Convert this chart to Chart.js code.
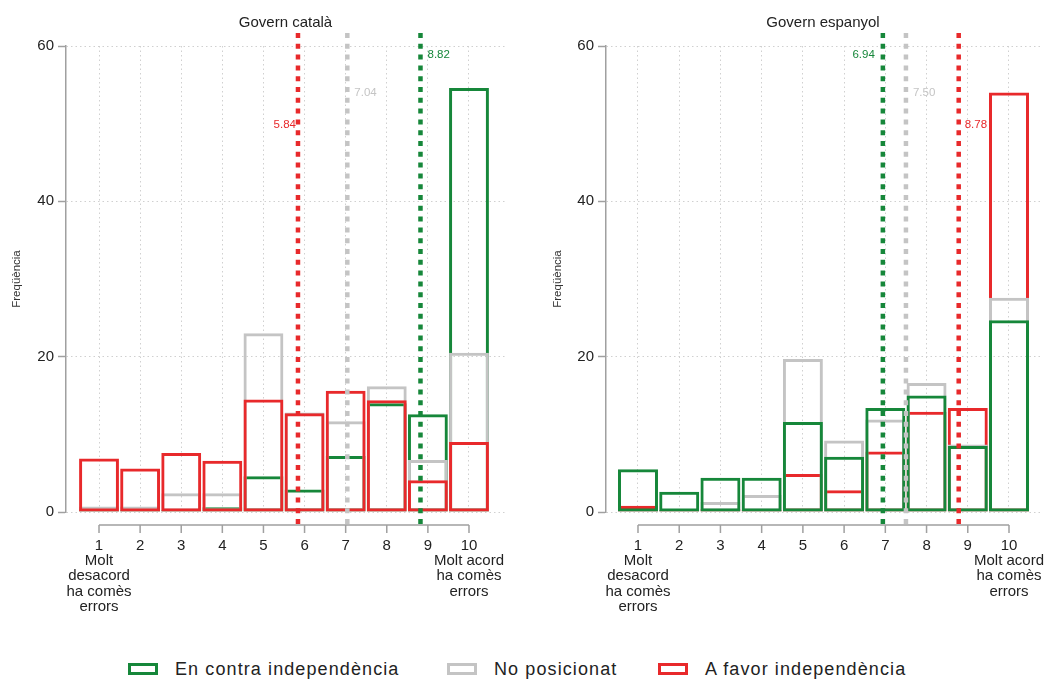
<!DOCTYPE html>
<html>
<head>
<meta charset="utf-8">
<script src="https://cdn.jsdelivr.net/npm/chart.js@4.4.1/dist/chart.umd.min.js"></script>
<style>
    body { margin: 0; background: #fff; font-family: 'Liberation Sans', Arial, sans-serif; }
    #wrap { position: relative; width: 1045px; height: 680px; overflow: hidden; }
    #wrap canvas { position: absolute; top: 0; }
    .legend-item { position: absolute; top: 659px; height: 20px; display: flex; align-items: center;
                   font-size: 18px; letter-spacing: 1.1px; color: #222; white-space: nowrap; }
    .legend-item .box { width: 24px; height: 6px; border: 3px solid; margin-right: 17px; }
</style>
</head>
<body>
<div id="wrap">
    <canvas id="catalaChart" width="530" height="640" style="left:0px"></canvas>
    <canvas id="espanyolChart" width="515" height="640" style="left:530px"></canvas>
    <div class="legend-item" style="left:128px"><span class="box" style="border-color:#16873a"></span><span id="lg0"></span></div>
    <div class="legend-item" style="left:447px"><span class="box" style="border-color:#c4c4c4"></span><span id="lg1"></span></div>
    <div class="legend-item" style="left:658px"><span class="box" style="border-color:#e8292b"></span><span id="lg2"></span></div>
</div>
<script>
// categories on the x axis (scale 1-10)
const categories = [1, 2, 3, 4, 5, 6, 7, 8, 9, 10];
const lowEndLabel = ['Molt', 'desacord', 'ha comès', 'errors'];
const highEndLabel = ['Molt acord', 'ha comès', 'errors'];
const yTicks = [0, 20, 40, 60];

const groupNames = ['En contra independència', 'No posicionat', 'A favor independència'];
const colors = ['#16873a', '#c4c4c4', '#e8292b'];

// Govern català
const catalaContra = [0.4, 0, 0.2, 0.6, 4.6, 2.9, 7.2, 14.0, 12.6, 54.6];
const catalaNoPos = [0.7, 0.7, 2.4, 2.4, 23.0, 12.8, 11.7, 16.2, 6.7, 20.5];
const catalaFavor = [6.9, 5.6, 7.6, 6.6, 14.5, 12.7, 15.6, 14.4, 4.1, 9.0];
const catalaMeans = [8.82, 7.04, 5.84];

// Govern espanyol
const espanyolContra = [5.5, 2.6, 4.4, 4.4, 11.6, 7.1, 13.4, 15.0, 8.5, 24.7];
const espanyolNoPos = [0.4, 0, 1.3, 2.2, 19.7, 9.2, 11.9, 16.6, 8.7, 27.6];
const espanyolFavor = [0.8, 0, 0.4, 0.3, 4.9, 2.8, 7.8, 12.9, 13.4, 54.0];
const espanyolMeans = [6.94, 7.50, 8.78];

// height (in y units) where each mean label sits
const meanLabelY = [58.8, 54.0, 49.9];

const FONT = "'Liberation Sans', Arial, sans-serif";

groupNames.forEach((name, i) => {
    document.getElementById('lg' + i).textContent = name;
});

const panelPlugin = {
    id: 'panel',
    afterDatasetsDraw(chart, args, opts) {
        const {ctx, chartArea} = chart;
        const x = chart.scales.x, y = chart.scales.y;
        opts.means.forEach((m, i) => {
            const px = x.getPixelForValue(m);
            ctx.save();
            ctx.strokeStyle = colors[i];
            ctx.lineWidth = 4.5;
            ctx.setLineDash([5, 5.8]);
            ctx.beginPath();
            ctx.moveTo(px, chartArea.top - 13);
            ctx.lineTo(px, chartArea.bottom + 15);
            ctx.stroke();
            ctx.setLineDash([]);
            ctx.fillStyle = colors[i];
            ctx.font = '11.5px ' + FONT;
            ctx.textBaseline = 'middle';
            const off = opts.labelOffset[i];
            ctx.textAlign = off < 0 ? 'right' : 'left';
            ctx.fillText(m.toFixed(2), px + off, y.getPixelForValue(meanLabelY[i]));
            ctx.restore();
        });
    },
    afterDraw(chart, args, opts) {
        const {ctx, chartArea} = chart;
        const x = chart.scales.x;
        ctx.save();
        // offset x axis line with tick marks
        const axisY = chartArea.bottom + 13;
        ctx.strokeStyle = '#a0a0a0';
        ctx.lineWidth = 1.5;
        ctx.beginPath();
        ctx.moveTo(x.getPixelForValue(categories[0]), axisY);
        ctx.lineTo(x.getPixelForValue(categories[categories.length - 1]), axisY);
        categories.forEach(c => {
            const px = x.getPixelForValue(c);
            ctx.moveTo(px, axisY);
            ctx.lineTo(px, axisY + 8);
        });
        ctx.stroke();

        // panel title
        ctx.fillStyle = '#222';
        ctx.font = '15px ' + FONT;
        ctx.textAlign = 'center';
        ctx.textBaseline = 'alphabetic';
        ctx.fillText(opts.title, (chartArea.left + chartArea.right) / 2, 27);

        // y axis title
        ctx.translate(opts.yTitleX, (chartArea.top + chartArea.bottom) / 2);
        ctx.rotate(-Math.PI / 2);
        ctx.fillStyle = '#333';
        ctx.font = '11.5px ' + FONT;
        ctx.textBaseline = 'middle';
        ctx.fillText('Freqüència', 0, 0);
        ctx.restore();
    }
};

function barDataset(label, values, color, order) {
    return {
        label: label,
        data: values.map((v, i) => ({x: categories[i], y: v})),
        backgroundColor: 'rgba(0,0,0,0)',
        borderColor: color,
        borderWidth: 3,
        borderSkipped: false,
        grouped: false,
        barPercentage: 0.97,
        categoryPercentage: 1,
        minBarLength: 2,
        order: order
    };
}

function makeChart(canvasId, series, orders, means, cfg) {
    const ctx = document.getElementById(canvasId).getContext('2d');
    return new Chart(ctx, {
        type: 'bar',
        data: {
            datasets: series.map((values, i) => barDataset(groupNames[i], values, colors[i], orders[i]))
        },
        options: {
            responsive: false,
            animation: false,
            layout: { padding: { top: 46, right: cfg.padRight, left: 0, bottom: 0 } },
            plugins: {
                legend: { display: false },
                tooltip: { enabled: false },
                panel: { title: cfg.title, yTitleX: cfg.yTitleX, means: means, labelOffset: cfg.labelOffset }
            },
            scales: {
                x: {
                    type: 'linear',
                    min: cfg.xMin,
                    max: cfg.xMax,
                    offset: false,
                    afterBuildTicks: scale => { scale.ticks = categories.map(v => ({value: v})); },
                    afterFit: scale => { scale.height = 128; scale.paddingLeft = 0; scale.paddingRight = 0; },
                    grid: { offset: false, drawTicks: false, color: '#d0d0d0', lineWidth: 1 },
                    border: { display: false, dash: [1.5, 3] },
                    ticks: {
                        padding: 26,
                        maxRotation: 0,
                        minRotation: 0,
                        autoSkip: false,
                        color: '#222',
                        font: { family: FONT, size: 15, lineHeight: 1.02 },
                        callback: value => {
                            if (value === categories[0]) return [String(value)].concat(lowEndLabel);
                            if (value === categories[categories.length - 1]) return [String(value)].concat(highEndLabel);
                            return String(value);
                        }
                    }
                },
                y: {
                    min: 0,
                    max: 60,
                    afterBuildTicks: scale => { scale.ticks = yTicks.map(v => ({value: v})); },
                    afterFit: scale => { scale.width = cfg.yWidth; scale.paddingTop = 0; scale.paddingBottom = 0; },
                    grid: { color: '#d0d0d0', lineWidth: 1, drawTicks: true, tickLength: 8,
                            tickColor: '#a0a0a0', tickWidth: 1.5, tickBorderDash: [] },
                    border: { display: true, color: '#a0a0a0', width: 1.5, dash: [1.5, 3] },
                    ticks: { padding: 4, color: '#222', font: { family: FONT, size: 15 } }
                }
            }
        },
        plugins: [panelPlugin]
    });
}

makeChart('catalaChart',
    [catalaContra, catalaNoPos, catalaFavor],
    [3, 2, 1],
    catalaMeans,
    { title: 'Govern català', yTitleX: 17, yWidth: 66, padRight: 25, xMin: 0.197, xMax: 10.876,
      labelOffset: [7, 7, -2] });

makeChart('espanyolChart',
    [espanyolContra, espanyolNoPos, espanyolFavor],
    [1, 2, 3],
    espanyolMeans,
    { title: 'Govern espanyol', yTitleX: 28, yWidth: 76, padRight: 5, xMin: 0.224, xMax: 10.752,
      labelOffset: [-8, 7, 6] });
</script>
</body>
</html>
